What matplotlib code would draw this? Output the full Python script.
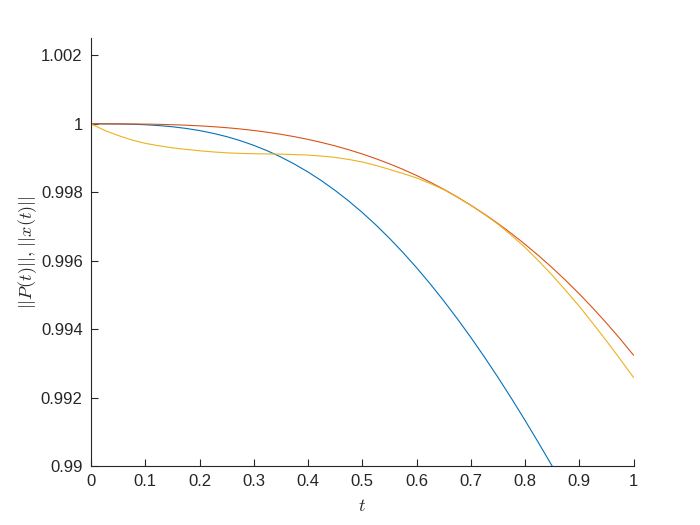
import matplotlib
matplotlib.use('Agg')
import matplotlib.pyplot as plt
from matplotlib.ticker import FuncFormatter

# sample times
t = [0.0, 0.025, 0.05, 0.075, 0.1, 0.125, 0.15, 0.175, 0.2, 0.225, 0.25,
     0.275, 0.3, 0.325, 0.35, 0.375, 0.4, 0.425, 0.45, 0.475, 0.5,
     0.525, 0.55, 0.575, 0.6, 0.625, 0.65, 0.675, 0.7, 0.725, 0.75,
     0.775, 0.8, 0.825, 0.85, 0.875, 0.9, 0.925, 0.95, 0.975, 1.0]

# ||P(t)||, first curve (blue)
norm_P1 = [1.0, 1.0, 0.999997, 0.999989, 0.999974, 0.99995, 0.999915, 0.999867,
           0.999804, 0.999724, 0.999627, 0.99951, 0.999372, 0.999213, 0.99903,
           0.998824, 0.998593, 0.998337, 0.998054, 0.997746, 0.99741, 0.997048,
           0.996658, 0.996241, 0.995798, 0.995328, 0.994831, 0.994309, 0.993762,
           0.99319, 0.992594, 0.991976, 0.991336, 0.990676, 0.99, 0.9893,
           0.98859, 0.987859, 0.98713, 0.986369, 0.98561]

# ||P(t)||, second curve (orange)
norm_P2 = [1.0, 1.0, 0.999999, 0.999997, 0.999993, 0.999986, 0.999975, 0.999961,
           0.999942, 0.999918, 0.999888, 0.999851, 0.999807, 0.999755, 0.999695,
           0.999625, 0.999546, 0.999456, 0.999356, 0.999244, 0.99912, 0.998983,
           0.998833, 0.99867, 0.998492, 0.998298, 0.99809, 0.997865, 0.997623,
           0.997365, 0.997089, 0.996795, 0.996481, 0.996149, 0.995797, 0.995425,
           0.995031, 0.994617, 0.99418, 0.993722, 0.99324]

# ||x(t)|| (yellow)
norm_x = [1.0, 0.99981, 0.99966, 0.99953, 0.99943, 0.99936, 0.9993, 0.999254,
          0.999214, 0.99918, 0.999153, 0.999138, 0.999127, 0.999121, 0.999115,
          0.999103, 0.999088, 0.999058, 0.99902, 0.99896, 0.998885, 0.998785,
          0.99867, 0.99855, 0.99842, 0.998258, 0.99808, 0.997858, 0.99762,
          0.997355, 0.99707, 0.996742, 0.99639, 0.995995, 0.99558, 0.99513,
          0.99467, 0.99417, 0.99366, 0.99313, 0.99259]

plt.rcParams['font.family'] = ['Liberation Sans', 'DejaVu Sans']
plt.rcParams['mathtext.fontset'] = 'cm'

axcol = '#262626'
fig = plt.figure(figsize=(7, 5.25), dpi=100)
ax = fig.add_axes([0.13, 0.1124, 0.775, 0.8146])

ax.plot(t, norm_P1, color='#0072BD', lw=0.8)
ax.plot(t, norm_P2, color='#D95319', lw=0.8)
ax.plot(t, norm_x, color='#EDB120', lw=0.8)

ax.set_xlim(0, 1)
ax.set_ylim(0.99, 1.0025)
ax.set_xticks([0, 0.1, 0.2, 0.3, 0.4, 0.5, 0.6, 0.7, 0.8, 0.9, 1])
ax.set_yticks([0.99, 0.992, 0.994, 0.996, 0.998, 1.0, 1.002])
ax.yaxis.set_major_formatter(FuncFormatter(lambda v, p: '%g' % round(v, 6)))
ax.xaxis.set_major_formatter(FuncFormatter(lambda v, p: '%g' % round(v, 6)))

for s in ['top', 'right']:
    ax.spines[s].set_visible(False)
for s in ['left', 'bottom']:
    ax.spines[s].set_color(axcol)
    ax.spines[s].set_linewidth(0.8)
ax.tick_params(direction='in', length=5, width=0.8, colors=axcol, labelsize=12, pad=6)

ax.set_xlabel('$t$', fontsize=13, color=axcol, labelpad=6)
ax.set_ylabel('$||P(t)||,\\,||x(t)||$', fontsize=13, color=axcol, labelpad=1)

fig.savefig('out.png', dpi=100)
